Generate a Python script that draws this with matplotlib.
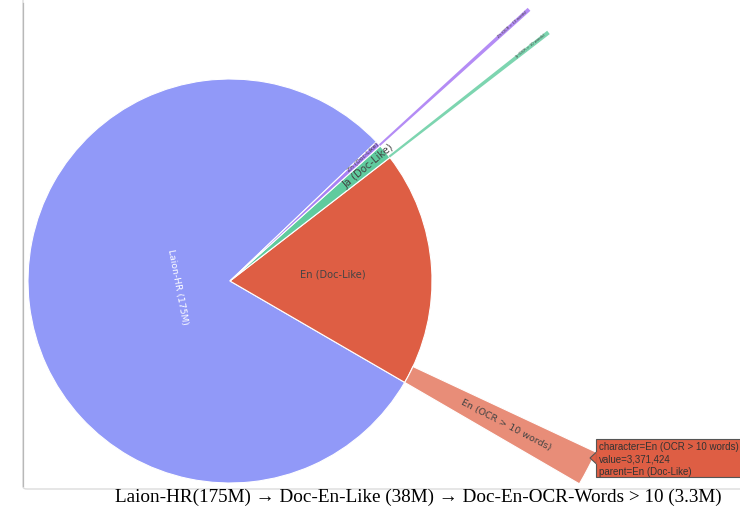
import matplotlib
matplotlib.use('Agg')
import matplotlib.pyplot as plt
from matplotlib.patches import FancyBboxPatch, Polygon
import numpy as np

# ---- data ----
parents = ["Laion-HR (175M)", "En (Doc-Like)", "Ja (Doc-Like)", "Zh (Doc-Like)"]
parent_values = [190_000_000, 45_000_000, 2_850_000, 1_050_000]
parent_colors = ['#9199F8', '#DE5E44', '#5FCB9E', '#A981F4']
parent_text_colors = ['white', '#444444', '#444444', '#444444']

children = ["", "En (OCR > 10 words)", "Ja (OCR > 10 words)", "Zh (OCR > 10 words)"]
child_values = [0, 3_371_424, 400_000, 380_000]
child_colors = ['white', '#E88D78', '#7DD5B0', '#B48CF5']

caption = "Laion-HR(175M) \u2192 Doc-En-Like (38M) \u2192 Doc-En-OCR-Words > 10 (3.3M)"
hover_lines = ["character=En (OCR > 10 words)", "value=3,371,424", "parent=En (Doc-Like)"]

# ---- layout ----
W, H = 740, 513
fig = plt.figure(figsize=(W / 100, H / 100), dpi=100)
ax = fig.add_axes([0, 0, 1, 1])
R = 202.0           # inner radius in pixels
cx, cy = 230, 281   # centre in pixels (from top)
START = 43.55

inner = ax.pie(parent_values, radius=1, startangle=START, counterclock=True,
               colors=parent_colors,
               wedgeprops=dict(edgecolor='white', linewidth=0.8))[0]

outer_vals, outer_cols, is_child, outer_labels = [], [], [], []
for pv, cv, cc, cl in zip(parent_values, child_values, child_colors, children):
    if cv > 0:
        outer_vals.append(cv); outer_cols.append(cc); is_child.append(True); outer_labels.append(cl)
    outer_vals.append(pv - cv); outer_cols.append('white'); is_child.append(False); outer_labels.append("")

outer = ax.pie(outer_vals, radius=2, startangle=START, counterclock=True,
               colors=outer_cols,
               wedgeprops=dict(width=1, edgecolor='white', linewidth=0.8))[0]
for w, c in zip(outer, is_child):
    if not c:
        w.set_visible(False)
    elif w.theta2 - w.theta1 < 2:
        w.set_linewidth(0)

ax.set_xlim(-cx / R, (W - cx) / R)
ax.set_ylim(-(H - cy) / R, cy / R)
ax.set_aspect('auto')
ax.axis('off')


def polar(theta, r):
    t = np.radians(theta)
    return r * np.cos(t), r * np.sin(t)


def mid(w):
    return (w.theta1 + w.theta2) / 2.0


sans = ['DejaVu Sans']
# inner labels
m = mid(inner[0])
ax.text(*polar(m, 0.26), parents[0], rotation=m - 266, ha='center', va='center',
        fontsize=6.7, color=parent_text_colors[0], family=sans, rotation_mode='anchor')
m = mid(inner[1])
ax.text(*polar(m, 0.51), parents[1], rotation=0, ha='center', va='center',
        fontsize=7.1, color=parent_text_colors[1], family=sans)
m = mid(inner[2])
ax.text(*polar(m, 0.89), parents[2], rotation=m, ha='center', va='center',
        fontsize=7.2, color=parent_text_colors[2], family=sans, rotation_mode='anchor')
m = mid(inner[3])
ax.text(*polar(m, 0.9), parents[3], rotation=m, ha='center', va='center',
        fontsize=4.3, color=parent_text_colors[3], family=sans, rotation_mode='anchor')

# outer labels
for w, c, lab in zip(outer, is_child, outer_labels):
    if not c:
        continue
    m = mid(w)
    if w.theta2 - w.theta1 > 2:
        ax.text(*polar(m, 1.54), lab, rotation=m, ha='center', va='center',
                fontsize=6.8, color='#444444', family=sans, rotation_mode='anchor')
    else:
        ax.text(*polar(m, 1.89), lab, rotation=m, ha='center', va='center',
                fontsize=2.6, color='#444444', family=sans, rotation_mode='anchor')


# ---- frame ----
def fx(x):
    return x / W


def fy(y):
    return 1 - y / H


frame = FancyBboxPatch((fx(23), fy(489)), fx(800) - fx(23), fy(-10) - fy(489),
                       boxstyle='round,pad=0,rounding_size=0.005',
                       transform=fig.transFigure, facecolor='none',
                       edgecolor='#dcdcdc', lw=1.0, zorder=0)
fig.add_artist(frame)
fig.add_artist(plt.Line2D([fx(23), fx(23)], [fy(3), fy(486)], transform=fig.transFigure,
                          color='#b8b8b8', lw=0.9))

# ---- hover tooltip ----
box = FancyBboxPatch((fx(596), fy(477)), fx(748) - fx(596), fy(439) - fy(477),
                     boxstyle='square,pad=0', transform=fig.transFigure,
                     facecolor='#DE5E44', edgecolor='#555555', lw=0.8, zorder=5)
fig.add_artist(box)
tri = Polygon([[fx(596.5), fy(452)], [fx(590), fy(458)], [fx(596.5), fy(464)]],
              closed=True, transform=fig.transFigure, facecolor='#DE5E44',
              edgecolor='#555555', lw=0.8, zorder=6)
fig.add_artist(tri)
fig.add_artist(plt.Line2D([fx(596.5), fx(596.5)], [fy(452.6), fy(463.4)], transform=fig.transFigure,
                          color='#DE5E44', lw=1.2, zorder=7))
for i, line in enumerate(hover_lines):
    fig.text(fx(599), fy(447 + 12.5 * i), line, ha='left', va='center', fontsize=7,
             color='#333333', family=['Liberation Sans', 'DejaVu Sans'], zorder=8)

# ---- caption ----
fig.text(fx(418), fy(497), caption, ha='center', va='center', fontsize=13.8,
         family=['Liberation Serif', 'DejaVu Serif'], color='black')

fig.savefig('out.png', dpi=100)
